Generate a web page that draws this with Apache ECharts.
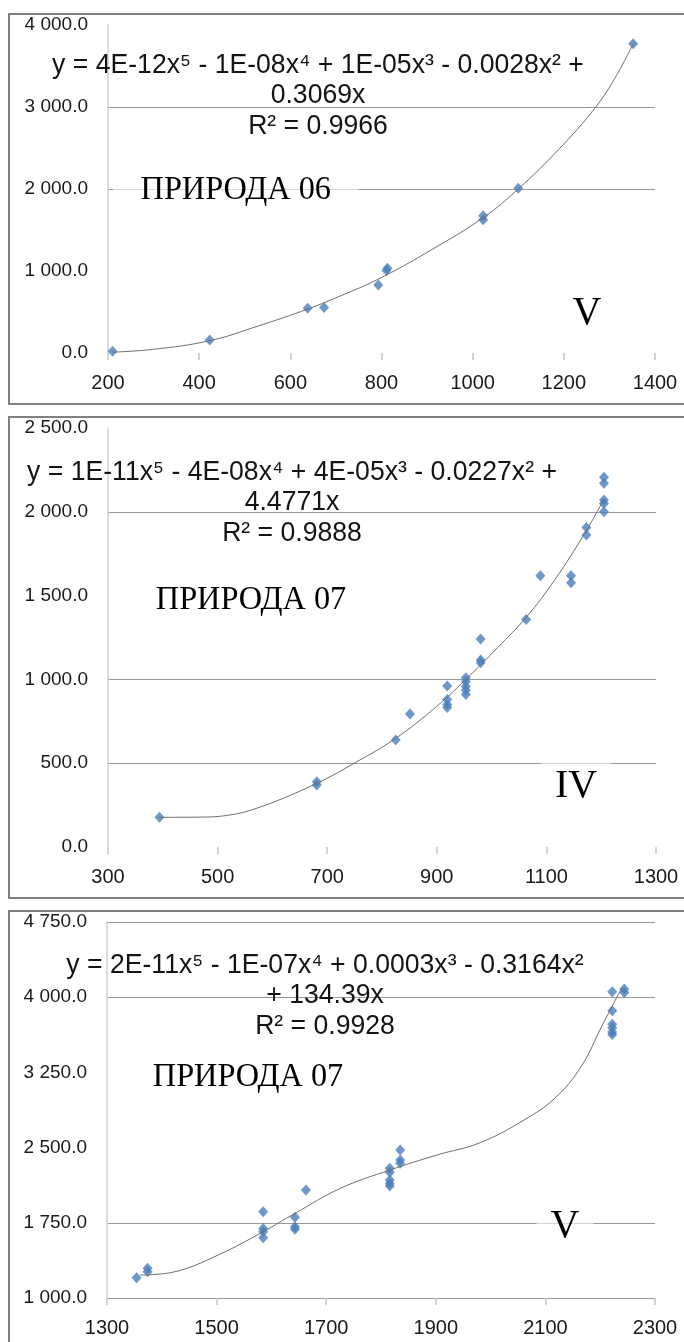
<!DOCTYPE html>
<html>
<head>
<meta charset="utf-8">
<script src="https://cdn.jsdelivr.net/npm/echarts@6/dist/echarts.min.js"></script>
<style>
  html, body { margin: 0; padding: 0; background: #ffffff; }
  #chart { width: 684px; height: 1342px; }
</style>
</head>
<body>
<div id="chart"></div>
<script>
// ---- Panel 1: ПРИРОДА 06, class V ----
const p1X = [210, 423, 638, 674, 793, 811, 813, 1023, 1023, 1100, 1352];
const p1Y = [20, 160, 545, 555, 830, 1005, 1035, 1625, 1675, 2010, 3770];
const p1TrendX = [210, 300, 423, 530, 640, 720, 800, 910, 1023, 1100, 1190, 1270, 1315, 1352];
const p1TrendY = [10, 45, 150, 330, 540, 720, 920, 1260, 1650, 2000, 2490, 3000, 3380, 3770];
const p1XTicks = { min: 200, max: 1400, interval: 200 };
const p1YTicks = { min: 0, max: 4000, interval: 1000 };

// ---- Panel 2: ПРИРОДА 07, class IV ----
const p2X = [394, 681, 681, 825, 851, 919, 919, 919, 919, 953, 953, 953, 953, 953, 980, 980, 980,
             1063, 1089, 1145, 1145, 1173, 1173, 1205, 1205, 1205, 1205, 1205];
const p2Y = [177, 370, 390, 638, 794, 961, 880, 850, 833, 1010, 988, 958, 935, 910, 1241, 1116, 1100,
             1358, 1619, 1619, 1577, 1907, 1862, 2206, 2170, 2070, 2050, 2001];
const p2TrendX = [394, 460, 520, 580, 681, 751, 825, 899, 953, 1011, 1063, 1115, 1170, 1205];
const p2TrendY = [177, 178, 190, 241, 380, 503, 648, 837, 1000, 1190, 1370, 1593, 1872, 2075];
const p2XTicks = { min: 300, max: 1300, interval: 200 };
const p2YTicks = { min: 0, max: 2500, interval: 500 };

// ---- Panel 3: ПРИРОДА 07, class V ----
const p3X = [1354, 1374, 1374, 1585, 1585, 1585, 1585, 1643, 1643, 1643, 1663, 1816, 1816, 1816, 1816, 1816,
             1835, 1835, 1835, 2222, 2222, 2222, 2222, 2222, 2222, 2244, 2244];
const p3Y = [1202, 1296, 1262, 1860, 1694, 1661, 1601, 1805, 1711, 1685, 2077, 2293, 2253, 2176, 2143, 2117,
             2475, 2376, 2343, 4054, 3864, 3729, 3695, 3654, 3629, 4081, 4048];
const p3TrendX = [1360, 1424, 1503, 1585, 1643, 1726, 1816, 1902, 1981, 2061, 2117, 2165, 2204, 2240];
const p3TrendY = [1229, 1262, 1429, 1661, 1844, 2094, 2276, 2426, 2549, 2775, 2991, 3306, 3722, 4100];
const p3XTicks = { min: 1300, max: 2300, interval: 200 };
const p3YTicks = { min: 1000, max: 4750, interval: 750 };

// ---- Text blocks ----
const equations = [
  'y = 4E-12x\u2075 - 1E-08x\u2074 + 1E-05x\u00B3 - 0.0028x\u00B2 +\n0.3069x\nR\u00B2 = 0.9966',
  'y = 1E-11x\u2075 - 4E-08x\u2074 + 4E-05x\u00B3 - 0.0227x\u00B2 +\n4.4771x\nR\u00B2 = 0.9888',
  'y = 2E-11x\u2075 - 1E-07x\u2074 + 0.0003x\u00B3 - 0.3164x\u00B2\n+ 134.39x\nR\u00B2 = 0.9928'
];
const sourceNames = ['ПРИРОДА 06', 'ПРИРОДА 07', 'ПРИРОДА 07'];
const classNames = ['V', 'IV', 'V'];

const GRID = '#9a9a9a';
const NONE = 'rgba(0,0,0,0)';
// which horizontal grid lines are drawn, tick by tick from the axis minimum
const p1Lines = [NONE, NONE, GRID, GRID, NONE];
const p2Lines = [NONE, GRID, GRID, NONE, GRID, NONE];
const p3Lines = [GRID, GRID, NONE, NONE, GRID, GRID];

function pairs(xs, ys) { return xs.map((x, i) => [x, ys[i]]); }
function fmtY(v) {
  const s = v.toFixed(1).split('.');
  return s[0].replace(/\B(?=(\d{3})+(?!\d))/g, ' ') + '.' + s[1];
}
function fmtX(v) { return String(v); }

const grids = [
  { left: 108, right: 29, top: 25, height: 328 },
  { left: 108, right: 28, top: 428, height: 419 },
  { left: 107, right: 29, top: 922, height: 376 }
];

function xAxis(i, t) {
  return {
    type: 'value', gridIndex: i, min: t.min, max: t.max, interval: t.interval,
    axisLine: { show: false, onZero: false },
    axisTick: { show: true, length: 7, lineStyle: { color: '#c8c8c8', width: 1.5 } },
    splitLine: { show: false },
    axisLabel: { margin: 20, color: '#1a1a1a', fontFamily: 'Liberation Sans', fontSize: 20, formatter: fmtX }
  };
}
function yAxis(i, t, lines) {
  return {
    type: 'value', gridIndex: i, min: t.min, max: t.max, interval: t.interval,
    axisLine: { show: true, onZero: false, lineStyle: { color: '#d2d2d2', width: 1.5 } },
    axisTick: { show: false },
    splitLine: { show: true, lineStyle: { color: lines, width: 1.2 } },
    axisLabel: { margin: 20, color: '#1a1a1a', fontFamily: 'Liberation Sans', fontSize: 19, formatter: fmtY }
  };
}

function pointSeries(i, xs, ys) {
  return {
    type: 'scatter', xAxisIndex: i, yAxisIndex: i, data: pairs(xs, ys),
    symbol: 'diamond', symbolSize: [10, 11],
    itemStyle: { color: '#4a7ebb' }, z: 3
  };
}
function trendSeries(i, xs, ys) {
  return {
    type: 'line', xAxisIndex: i, yAxisIndex: i, data: pairs(xs, ys),
    smooth: 0.4, showSymbol: false, symbol: 'none',
    lineStyle: { color: '#6e6e6e', width: 1 }, z: 4, silent: true
  };
}

function frame(y, h) {
  return { type: 'rect', shape: { x: 9, y: y, width: 700, height: h },
           style: { fill: 'none', stroke: '#808080', lineWidth: 2 }, z: 50, silent: true };
}
function eqText(cx, top, text) {
  return { type: 'text', x: cx, y: top, scaleX: 0.95, z: 60, silent: true,
           style: { text: text, fill: '#141414', font: '28px "Liberation Sans", Arial, sans-serif',
                    align: 'center', verticalAlign: 'top', textAlign: 'center', textVerticalAlign: 'top',
                    lineHeight: 30.5 } };
}
function nameText(x, cy, text, padL, padR) {
  return { type: 'text', x: x, y: cy, scaleX: 0.95, z: 60, silent: true,
           style: { text: text, fill: '#000', font: '34px "Liberation Serif", "Times New Roman", serif',
                    align: 'left', verticalAlign: 'middle', textAlign: 'left', textVerticalAlign: 'middle',
                    backgroundColor: 'rgba(255,255,255,0.6)', padding: [6, padR, 6, padL] } };
}
function classText(cx, cy, text) {
  return { type: 'text', x: cx, y: cy, z: 60, silent: true,
           style: { text: text, fill: '#000', font: '40px "Liberation Serif", "Times New Roman", serif',
                    align: 'center', verticalAlign: 'middle', textAlign: 'center', textVerticalAlign: 'middle',
                    backgroundColor: 'rgba(255,255,255,0.6)', padding: [8, 14, 4, 14] } };
}

const chart = echarts.init(document.getElementById('chart'), null, { renderer: 'canvas' });
chart.setOption({
  animation: false,
  backgroundColor: '#ffffff',
  grid: grids,
  xAxis: [xAxis(0, p1XTicks), xAxis(1, p2XTicks), xAxis(2, p3XTicks)],
  yAxis: [yAxis(0, p1YTicks, p1Lines), yAxis(1, p2YTicks, p2Lines), yAxis(2, p3YTicks, p3Lines)],
  series: [
    pointSeries(0, p1X, p1Y), trendSeries(0, p1TrendX, p1TrendY),
    pointSeries(1, p2X, p2Y), trendSeries(1, p2TrendX, p2TrendY),
    pointSeries(2, p3X, p3Y), trendSeries(2, p3TrendX, p3TrendY)
  ],
  graphic: [
    frame(14, 390), frame(417, 481), frame(911, 460),
    eqText(318, 50, equations[0]), eqText(292, 457, equations[1]), eqText(325, 950, equations[2]),
    nameText(113, 190, sourceNames[0], 29, 29), nameText(152, 600, sourceNames[1], 4, 4),
    nameText(149, 1077, sourceNames[2], 4, 4),
    classText(587, 313, classNames[0]), classText(576, 786, classNames[1]), classText(565, 1226, classNames[2])
  ]
});
</script>
</body>
</html>
